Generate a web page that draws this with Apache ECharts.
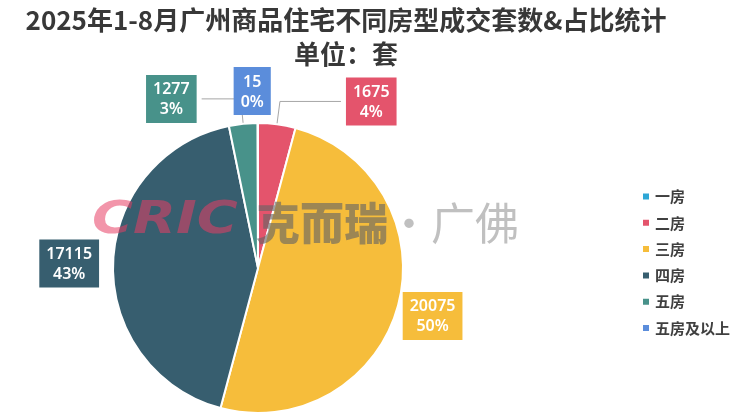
<!DOCTYPE html>
<html>
<head>
<meta charset="utf-8">
<script src="https://cdn.jsdelivr.net/npm/echarts@6/dist/echarts.min.js"></script>
<style>html,body{margin:0;padding:0;background:#fff;}#c{width:740px;height:418px;}</style>
</head>
<body>
<div id="c"></div>
<script>
// ---- data ----
const categories = ['一房', '二房', '三房', '四房', '五房', '五房及以上'];
const values = [0, 1675, 20075, 17115, 1277, 15];

// ---- styles ----
const colors = ['#2ea7d6', '#e4546c', '#f6bd3b', '#375e6f', '#48928a', '#5b8ddb'];
const labelTweaks = [
  { show: false, len: 0, len2: 0, dist: 5, line: false },
  { show: true, len: 23, len2: 61, dist: 5, line: true },
  { show: true, len: 40, len2: 0, dist: -34, line: false },
  { show: true, len: 9, len2: 0, dist: 5, line: false },
  { show: true, len: 25, len2: 39, dist: 5, line: true },
  { show: true, len: 32, len2: 0, dist: -13, line: false }
];

const chart = echarts.init(document.getElementById('c'));
const pieData = categories.map((name, i) => ({
  name: name,
  value: values[i],
  itemStyle: { color: colors[i] },
  label: {
    show: labelTweaks[i].show,
    backgroundColor: colors[i],
    distanceToLabelLine: labelTweaks[i].dist
  },
  labelLine: {
    show: labelTweaks[i].line,
    length: labelTweaks[i].len,
    length2: labelTweaks[i].len2
  }
}));

const labelFont = { color: '#fff', fontFamily: 'Noto Sans', fontSize: 16, fontWeight: 600, lineHeight: 20, align: 'center' };

chart.setOption({
  backgroundColor: '#fff',
  animation: false,
  title: {
    text: '2025年1-8月广州商品住宅不同房型成交套数&占比统计\n单位：套',
    left: 346,
    top: 3,
    padding: 0,
    textAlign: 'center',
    textStyle: {
      fontFamily: 'Noto Sans CJK SC',
      fontSize: 26,
      fontWeight: 'bold',
      color: '#383838',
      lineHeight: 34
    }
  },
  legend: {
    orient: 'vertical',
    left: 636,
    top: 184,
    itemWidth: 8,
    itemHeight: 8,
    itemGap: 11.3,
    icon: 'rect',
    data: categories,
    textStyle: {
      fontFamily: 'Noto Sans CJK SC',
      fontSize: 15,
      fontWeight: 'bold',
      color: '#404040'
    }
  },
  graphic: [
    {
      type: 'text', left: 92, top: 200, z: 100, silent: true, scaleX: 1.27,
      style: {
        text: 'CRIC', fill: 'rgba(232,62,100,0.55)',
        font: 'italic 900 44px "DejaVu Sans"'
      }
    },
    {
      type: 'text', left: 256, top: 201, z: 100, silent: true,
      style: {
        text: '克而瑞', fill: 'rgba(100,100,100,0.62)',
        font: '900 44px "Noto Sans CJK SC"'
      }
    },
    {
      type: 'text', left: 387, top: 201, z: 100, silent: true,
      style: {
        text: '·广佛', fill: 'rgba(130,130,130,0.5)',
        font: '400 44px "Noto Sans CJK SC"'
      }
    }
  ],
  series: [{
    type: 'pie',
    center: [258, 268],
    radius: 145,
    startAngle: 90,
    clockwise: true,
    avoidLabelOverlap: false,
    percentPrecision: 0,
    emphasis: { disabled: true },
    itemStyle: { borderColor: '#fff', borderWidth: 2 },
    label: {
      position: 'outside',
      formatter: '{v|{c}}\n{v|{d}%}',
      color: '#fff',
      fontFamily: 'Noto Sans',
      fontSize: 16,
      fontWeight: 600,
      lineHeight: 20,
      padding: [5, 7, 3, 7],
      rich: { v: labelFont }
    },
    labelLine: {
      lineStyle: { color: '#a6a6a6', width: 1 }
    },
    data: pieData
  }]
});
</script>
</body>
</html>
